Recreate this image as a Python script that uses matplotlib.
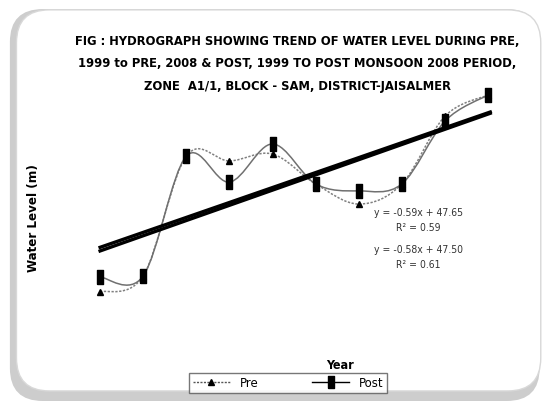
import numpy as np
import matplotlib
matplotlib.use("Agg")
import matplotlib.pyplot as plt
from matplotlib import font_manager as fm
from matplotlib.patches import FancyBboxPatch, PathPatch
from matplotlib.path import Path

# data: depth to water level (m), 10 observations 1999-2008
years = np.arange(1, 11)
pre = [48.65, 48.03, 43.38, 43.57, 43.30, 44.46, 45.24, 44.46, 41.83, 41.01]
post = [48.07, 48.03, 43.38, 44.39, 42.91, 44.46, 44.73, 44.46, 42.02, 41.01]
trend_pre = (-0.59, 47.65)
trend_post = (-0.58, 47.50)
eq_labels = ["y = -0.59x + 47.65", "R\u00b2 = 0.59", "y = -0.58x + 47.50", "R\u00b2 = 0.61"]
title = ("FIG : HYDROGRAPH SHOWING TREND OF WATER LEVEL DURING PRE,\n"
         "1999 to PRE, 2008 & POST, 1999 TO POST MONSOON 2008 PERIOD,\n"
         "ZONE  A1/1, BLOCK - SAM, DISTRICT-JAISALMER")

# look for a narrow font, otherwise shrink
narrow = [f for f in fm.fontManager.ttflist
          if 'Narrow' in f.name or 'Condensed' in f.name or f.stretch == 'condensed']
if narrow:
    plt.rcParams['font.family'] = [narrow[0].name, 'DejaVu Sans']
    scale = 1.0
    stretch = narrow[0].stretch
else:
    plt.rcParams['font.family'] = ['Liberation Sans', 'DejaVu Sans']
    scale = 0.9
    stretch = 'normal'


def smooth_path(x, y):
    # catmull-rom style smoothing like excel's smoothed lines
    x = np.asarray(x, float)
    y = np.asarray(y, float)
    verts = [(x[0], y[0])]
    codes = [Path.MOVETO]
    n = len(x)
    for i in range(n - 1):
        i0 = max(i - 1, 0)
        i3 = min(i + 2, n - 1)
        c1 = (x[i] + (x[i + 1] - x[i0]) / 6, y[i] + (y[i + 1] - y[i0]) / 6)
        c2 = (x[i + 1] - (x[i3] - x[i]) / 6, y[i + 1] - (y[i3] - y[i]) / 6)
        verts += [c1, c2, (x[i + 1], y[i + 1])]
        codes += [Path.CURVE4] * 3
    return Path(verts, codes)


fig = plt.figure(figsize=(5.49, 4.02), dpi=100)

# frame with shadow
shadow = FancyBboxPatch((0.018, 0.0), 0.965, 0.975, boxstyle="round,pad=0,rounding_size=0.06",
                        transform=fig.transFigure, facecolor="#cdcdcd", edgecolor="none",
                        mutation_aspect=549 / 402, zorder=-3)
fig.patches.append(shadow)
frame = FancyBboxPatch((0.03, 0.025), 0.955, 0.948, boxstyle="round,pad=0,rounding_size=0.06",
                       transform=fig.transFigure, facecolor="white", edgecolor="#d8d8d8",
                       linewidth=1, mutation_aspect=549 / 402, zorder=-2)
fig.patches.append(frame)

ax = fig.add_axes([60 / 549, 1 - 320 / 402, 460 / 549, 240 / 402])
ax.set_xlim(0.07, 10.74)
ax.set_ylim(49.70, 40.39)
ax.axis("off")

# smoothed series lines
ax.add_patch(PathPatch(smooth_path(years, pre), facecolor="none", edgecolor="#808080",
                       lw=1.1, ls=(0, (1.5, 1)), zorder=2))
ax.add_patch(PathPatch(smooth_path(years, post), facecolor="none", edgecolor="#707070",
                       lw=1.1, zorder=2))

# trend lines
for m, c in [trend_pre, trend_post]:
    xs = np.array([1, 10.05])
    ax.plot(xs, m * xs + c, color="black", lw=2.4, zorder=3)

tall = Path([(-0.5, -1), (0.5, -1), (0.5, 1), (-0.5, 1), (-0.5, -1)])
ax.plot(years, pre, ls="none", marker="^", ms=5, color="black", zorder=4)
ax.plot(years, post, ls="none", marker=tall, ms=10, color="black", zorder=5)

fig.text(297 / 549, 1 - 64 / 402, title, ha="center", va="center", fontsize=9.3 * scale,
         fontweight="bold", linespacing=1.95, fontstretch=stretch)

for i, t in enumerate(eq_labels):
    fig.text(418 / 549, 1 - (213 + 15 * i + (7 if i >= 2 else 0)) / 402, t,
             ha="center", va="center", fontsize=7.5 * scale, color="#333333",
             fontstretch=stretch)

fig.text(33 / 549, 1 - 218 / 402, "Water Level (m)", rotation=90, ha="center",
         va="center", fontsize=9.5 * scale, fontweight="bold", fontstretch=stretch)
fig.text(340 / 549, 1 - 366 / 402, "Year", ha="center", va="center", fontsize=9 * scale,
         fontweight="bold", fontstretch=stretch)

h1, = ax.plot([], [], color="#555555", ls=(0, (1.5, 1)), lw=1, marker="^", ms=5,
              mfc="black", mec="black")
h2, = ax.plot([], [], color="black", lw=1, marker=tall, ms=9)
leg = fig.legend([h1, h2], ["Pre", "Post"], loc="center", ncol=2,
                 bbox_to_anchor=(288 / 549, 1 - 384 / 402), fontsize=8.5 * scale,
                 frameon=True, fancybox=False, edgecolor="#555555",
                 handlelength=3.2, columnspacing=4.5, borderpad=0.3)
leg.get_frame().set_linewidth(1)

fig.savefig("out.png", dpi=100)
